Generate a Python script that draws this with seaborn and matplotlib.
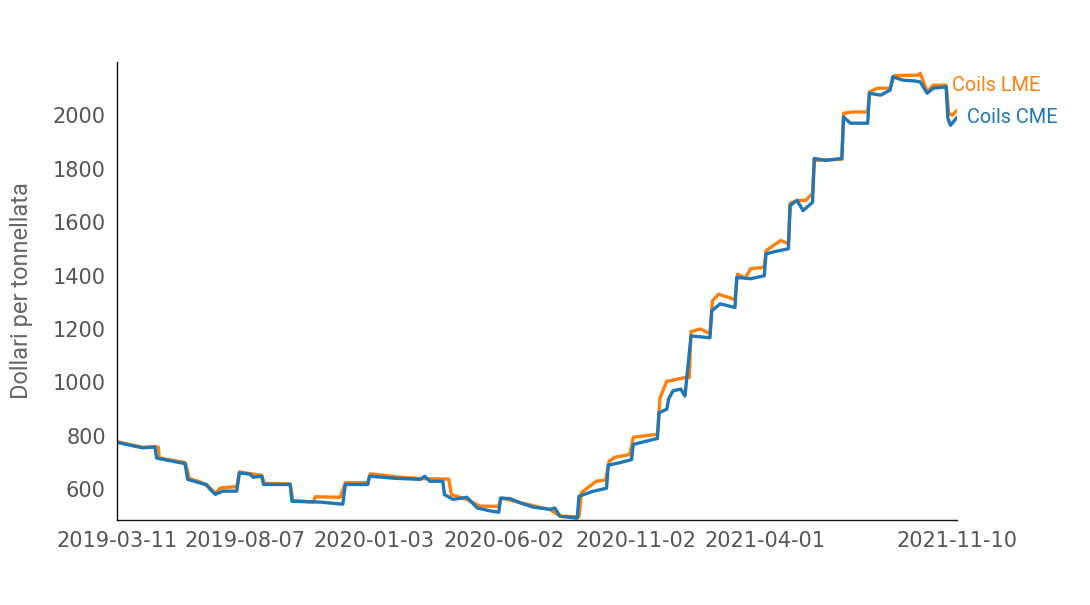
import matplotlib
matplotlib.use("Agg")
import matplotlib.pyplot as plt
import seaborn as sns
import pandas as pd

# ---- data ----
cme_dates = ["2019-03-11", "2019-03-26", "2019-04-10", "2019-04-24", "2019-04-26", "2019-05-08",
             "2019-05-29", "2019-06-01", "2019-06-15", "2019-06-23", "2019-06-27", "2019-07-03",
             "2019-07-12", "2019-07-28", "2019-07-31", "2019-08-12", "2019-08-16", "2019-08-26",
             "2019-08-28", "2019-09-28", "2019-09-30", "2019-11-02", "2019-11-28", "2019-12-01",
             "2019-12-27", "2019-12-29", "2020-01-28", "2020-02-26", "2020-03-02", "2020-03-08",
             "2020-03-23", "2020-03-25", "2020-04-04", "2020-04-20", "2020-05-02", "2020-05-17",
             "2020-05-27", "2020-05-29", "2020-06-09", "2020-06-21", "2020-07-06", "2020-07-26",
             "2020-07-31", "2020-08-06", "2020-08-26", "2020-08-28", "2020-09-13", "2020-09-29",
             "2020-10-01", "2020-10-15", "2020-10-28", "2020-10-30", "2020-11-27", "2020-11-29",
             "2020-12-08", "2020-12-10", "2020-12-15", "2020-12-24", "2020-12-29", "2021-01-05",
             "2021-01-27", "2021-01-29", "2021-02-08", "2021-02-25", "2021-02-27", "2021-03-15",
             "2021-03-31", "2021-04-02", "2021-04-13", "2021-04-28", "2021-04-30", "2021-05-08",
             "2021-05-15", "2021-05-26", "2021-05-28", "2021-06-10", "2021-06-29", "2021-07-01",
             "2021-07-09", "2021-07-29", "2021-07-31", "2021-08-13", "2021-08-24", "2021-08-27",
             "2021-09-08", "2021-09-22", "2021-09-28", "2021-10-06", "2021-10-13", "2021-10-28",
             "2021-10-30", "2021-11-02", "2021-11-10"]
cme_values = [776, 765, 755, 758, 717, 709,
              696, 637, 624, 618, 600, 581,
              593, 593, 661, 657, 645, 649,
              618, 618, 555, 552, 544, 618,
              618, 649, 641, 637, 649, 630,
              630, 580, 562, 570, 530, 519,
              514, 567, 565, 549, 533, 525,
              530, 499, 492, 574, 592, 604,
              690, 700, 711, 768, 790, 886,
              900, 938, 968, 975, 949, 1174,
              1167, 1268, 1294, 1280, 1393, 1388,
              1399, 1481, 1490, 1500, 1662, 1681,
              1643, 1674, 1838, 1831, 1838, 1993,
              1970, 1970, 2082, 2075, 2094, 2144,
              2131, 2128, 2124, 2082, 2101, 2106,
              1989, 1962, 1993]

lme_dates = ["2019-03-11", "2019-04-10", "2019-04-24", "2019-04-28", "2019-04-29", "2019-05-29",
             "2019-05-30", "2019-06-03", "2019-06-15", "2019-06-27", "2019-07-03", "2019-07-09",
             "2019-07-28", "2019-07-31", "2019-08-26", "2019-08-29", "2019-09-28", "2019-10-01",
             "2019-10-25", "2019-10-27", "2019-11-25", "2019-12-01", "2019-12-27", "2019-12-30",
             "2020-02-02", "2020-02-26", "2020-03-30", "2020-04-02", "2020-04-20", "2020-05-05",
             "2020-05-27", "2020-05-30", "2020-06-21", "2020-07-26", "2020-08-06", "2020-08-28",
             "2020-08-31", "2020-09-17", "2020-09-28", "2020-10-02", "2020-10-09", "2020-10-26",
             "2020-10-30", "2020-11-13", "2020-11-27", "2020-11-30", "2020-12-08", "2020-12-10",
             "2020-12-29", "2021-01-03", "2021-01-05", "2021-01-16", "2021-01-27", "2021-01-30",
             "2021-02-06", "2021-02-25", "2021-02-28", "2021-03-09", "2021-03-15", "2021-03-31",
             "2021-04-02", "2021-04-19", "2021-04-28", "2021-04-30", "2021-05-08", "2021-05-18",
             "2021-05-26", "2021-05-28", "2021-06-29", "2021-07-01", "2021-07-12", "2021-07-29",
             "2021-07-31", "2021-08-09", "2021-08-24", "2021-08-29", "2021-09-26", "2021-09-28",
             "2021-10-06", "2021-10-13", "2021-10-28", "2021-10-31", "2021-11-04", "2021-11-10"]
lme_values = [778, 757, 760, 757, 717, 700,
              690, 640, 628, 605, 585, 605,
              610, 665, 652, 622, 620, 558,
              552, 572, 570, 625, 625, 658,
              645, 640, 638, 580, 562, 537,
              536, 567, 550, 523, 499, 497,
              588, 630, 635, 705, 720, 730,
              795, 800, 806, 942, 1005, 1005,
              1018, 1018, 1190, 1200, 1182, 1306,
              1330, 1310, 1405, 1390, 1425, 1431,
              1493, 1531, 1519, 1670, 1681, 1681,
              1707, 1831, 1835, 2007, 2012, 2012,
              2087, 2101, 2101, 2148, 2150, 2157,
              2087, 2112, 2112, 2007, 2000, 2019]

series_names = ["Coils LME", "Coils CME"]
series_colors = ["#ff7f0e", "#1f77b4"]
x_tick_labels = ["2019-03-11", "2019-08-07", "2020-01-03", "2020-06-02",
                 "2020-11-02", "2021-04-01", "2021-11-10"]
y_ticks = [600, 800, 1000, 1200, 1400, 1600, 1800, 2000]
y_label = "Dollari per tonnellata"

df = pd.concat([
    pd.DataFrame({"date": pd.to_datetime(lme_dates), "value": lme_values, "serie": series_names[0]}),
    pd.DataFrame({"date": pd.to_datetime(cme_dates), "value": cme_values, "serie": series_names[1]}),
], ignore_index=True)

sns.set_style("white")
plt.rcParams["font.family"] = ["DejaVu Sans"]

fig = plt.figure(figsize=(10.9, 6.05), dpi=100)
ax = fig.add_axes([0.1073, 0.1405, 0.771, 0.757])

sns.lineplot(data=df, x="date", y="value", hue="serie", hue_order=series_names,
             palette=dict(zip(series_names, series_colors)), estimator=None,
             linewidth=2.4, legend=False, ax=ax)

x0 = pd.Timestamp(x_tick_labels[0])
x1 = pd.Timestamp(x_tick_labels[-1])
ax.set_xlim(x0, x1)
ax.set_ylim(485, 2199)

ax.set_xticks(pd.to_datetime(x_tick_labels))
ax.set_xticklabels(x_tick_labels)
ax.set_yticks(y_ticks)
ax.set_yticks([485, 2199], minor=True)

for s in ["top", "right"]:
    ax.spines[s].set_visible(False)
for s in ["left", "bottom"]:
    ax.spines[s].set_color("#111111")
    ax.spines[s].set_linewidth(1.0)

ax.tick_params(axis="both", which="both", direction="out", length=5, width=1,
               color="#111111", labelsize=15, labelcolor="#555555", pad=3)
ax.set_xlabel("")
ax.set_ylabel(y_label, fontsize=17, color="#666666", family="Roboto", labelpad=14)

# end labels
ax.annotate(series_names[0], xy=(pd.Timestamp(lme_dates[-1]), 2112), xytext=(-4, 0),
            textcoords="offset points", color=series_colors[0], fontsize=14.3,
            family="Roboto", va="center", ha="left", annotation_clip=False)
ax.annotate(series_names[1], xy=(pd.Timestamp(cme_dates[-1]), 1993), xytext=(7, 0),
            textcoords="offset points", color=series_colors[1], fontsize=14.3,
            family="Roboto", va="center", ha="left", annotation_clip=False)

fig.savefig("out.png", dpi=100)
